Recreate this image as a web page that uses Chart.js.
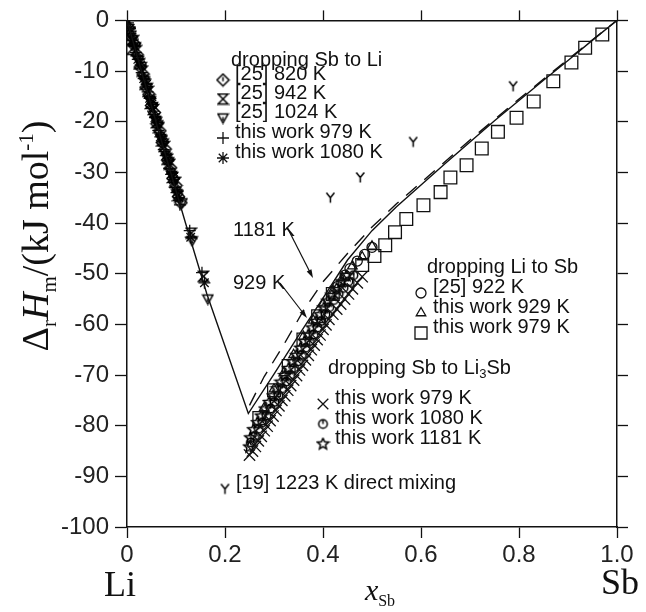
<!DOCTYPE html>
<html>
<head>
<meta charset="utf-8">
<script src="https://cdn.jsdelivr.net/npm/chart.js@4.4.1/dist/chart.umd.min.js"></script>
<style>
  body { margin: 0; background: #fff; }
  canvas { display: block; }
</style>
</head>
<body>
<canvas id="myChart" width="646" height="612"></canvas>
<script>
// tick labels
const xTickLabels = ["0", "0.2", "0.4", "0.6", "0.8", "1.0"];
const yTickLabels = ["0", "-10", "-20", "-30", "-40", "-50", "-60", "-70", "-80", "-90", "-100"];

// dropping Sb to Li
const ref820 = [[0.004,-1.5],[0.009,-3.3],[0.015,-4.6],[0.021,-6.8],[0.027,-9.2],[0.033,-10.6],[0.039,-13.2],[0.045,-14.6],[0.050,-16.8],[0.056,-18.2],[0.061,-20.4],[0.067,-21.8],[0.072,-24.1],[0.078,-25.4],[0.083,-27.6],[0.089,-29.1],[0.094,-31.2],[0.100,-32.6],[0.105,-34.8],[0.110,-36.0]];
const ref942 = [[0.006,-2.3],[0.010,-5.7],[0.013,-4.0],[0.019,-6.0],[0.025,-8.6],[0.031,-10.0],[0.037,-12.6],[0.043,-14.0],[0.048,-16.4],[0.054,-17.6],[0.060,-20.2],[0.065,-21.2],[0.071,-23.8],[0.076,-24.9],[0.082,-27.4],[0.087,-28.4],[0.093,-31.0],[0.098,-32.0],[0.104,-34.6],[0.131,-42.0],[0.156,-50.5]];
const ref1024 = [[0.008,-2.9],[0.017,-5.2],[0.023,-7.9],[0.029,-9.1],[0.035,-11.9],[0.041,-13.2],[0.047,-15.8],[0.052,-17.0],[0.058,-19.7],[0.063,-20.6],[0.069,-23.3],[0.074,-24.2],[0.080,-27.0],[0.085,-27.9],[0.091,-30.6],[0.097,-31.8],[0.102,-34.2],[0.112,-36.0],[0.133,-43.5],[0.165,-55.0]];
const work979Li = [[0.003,-0.8],[0.007,-2.6],[0.012,-3.7],[0.018,-6.3],[0.024,-7.6],[0.030,-10.3],[0.036,-11.4],[0.042,-14.1],[0.047,-15.2],[0.053,-17.9],[0.058,-19.0],[0.064,-21.7],[0.070,-22.8],[0.075,-25.5],[0.081,-26.5],[0.086,-29.2],[0.092,-30.2],[0.097,-32.9],[0.103,-33.8],[0.108,-36.4],[0.128,-41.5],[0.153,-49.8]];
const work1080Li = [[0.002,-0.5],[0.006,-1.6],[0.011,-4.0],[0.016,-5.1],[0.022,-7.7],[0.028,-8.8],[0.034,-11.5],[0.040,-12.6],[0.046,-15.4],[0.051,-16.5],[0.057,-19.2],[0.062,-20.2],[0.068,-23.0],[0.073,-24.0],[0.079,-26.7],[0.084,-27.7],[0.090,-30.4],[0.095,-31.4],[0.101,-34.0],[0.106,-35.0],[0.130,-42.8],[0.158,-51.8]];

// dropping Li to Sb
const ref922 = [[0.430,-52.5],[0.445,-50.3],[0.455,-49.0],[0.470,-47.5],[0.485,-46.2],[0.500,-44.8]];
const work929Sb = [[0.280,-76.5],[0.300,-72.8],[0.320,-69.6],[0.340,-66.0],[0.360,-62.4],[0.380,-59.2],[0.400,-56.0],[0.420,-53.4],[0.440,-50.8],[0.460,-48.5],[0.480,-46.7],[0.500,-44.6]];
const work979Sb = [[0.270,-78.5],[0.300,-73.0],[0.330,-68.2],[0.360,-63.0],[0.390,-58.4],[0.420,-54.0],[0.450,-51.2],[0.480,-48.3],[0.505,-46.5],[0.527,-44.4],[0.547,-41.8],[0.570,-39.2],[0.605,-36.5],[0.640,-33.9],[0.660,-31.0],[0.693,-28.6],[0.724,-25.3],[0.757,-22.0],[0.795,-19.2],[0.830,-16.0],[0.870,-12.0],[0.907,-8.3],[0.935,-5.4],[0.970,-2.8]];

// dropping Sb to Li3Sb
const work979Li3 = [[0.250,-85.8],[0.256,-85.0],[0.262,-84.1],[0.268,-83.0],[0.274,-82.1],[0.280,-81.0],[0.286,-80.1],[0.292,-79.0],[0.298,-78.1],[0.304,-77.0],[0.310,-76.1],[0.316,-75.0],[0.322,-74.1],[0.328,-73.0],[0.334,-72.1],[0.340,-71.0],[0.346,-70.1],[0.352,-69.0],[0.358,-68.1],[0.364,-67.0],[0.370,-66.1],[0.376,-65.0],[0.382,-64.1],[0.388,-63.0],[0.394,-62.1],[0.400,-61.0],[0.406,-60.1],[0.412,-59.0],[0.420,-58.0],[0.428,-57.0],[0.436,-56.0],[0.444,-55.0],[0.452,-54.0],[0.460,-53.0],[0.470,-51.8],[0.480,-50.6]];
const work1080Li3 = [[0.253,-83.3],[0.261,-82.0],[0.269,-80.6],[0.277,-79.3],[0.285,-78.0],[0.293,-76.6],[0.301,-75.3],[0.309,-74.0],[0.317,-72.6],[0.325,-71.3],[0.333,-70.0],[0.341,-68.6],[0.349,-67.3],[0.357,-66.0],[0.365,-64.6],[0.373,-63.3],[0.381,-62.0],[0.389,-60.6],[0.397,-59.3],[0.405,-58.0],[0.413,-56.6],[0.422,-55.2],[0.432,-54.0],[0.442,-52.8],[0.452,-51.5],[0.462,-50.3]];
const work1181Li3 = [[0.250,-84.2],[0.252,-82.4],[0.258,-80.8],[0.266,-79.4],[0.274,-78.1],[0.282,-76.7],[0.290,-75.4],[0.298,-74.1],[0.306,-72.7],[0.314,-71.4],[0.322,-70.1],[0.330,-68.7],[0.338,-67.4],[0.346,-66.1],[0.354,-64.7],[0.362,-63.4],[0.370,-62.1],[0.378,-60.7],[0.386,-59.4],[0.394,-58.1],[0.402,-56.7],[0.410,-55.4],[0.418,-54.2],[0.428,-52.9],[0.438,-51.6],[0.448,-50.4]];

// [19] 1223 K direct mixing
const ref1223 = [[0.415,-35.0],[0.476,-31.0],[0.584,-24.0],[0.788,-13.0]];

// model curves
const curve929 = [[0,0],[0.040,-13.6],[0.080,-27.0],[0.120,-40.2],[0.163,-54.0],[0.2476,-77.6],[0.30,-69.8],[0.35,-62.2],[0.40,-54.8],[0.45,-47.3],[0.50,-41.5],[0.55,-36.8],[0.60,-32.5],[0.65,-28.2],[0.70,-24.0],[0.75,-19.8],[0.80,-15.8],[0.85,-11.8],[0.90,-7.9],[0.95,-3.9],[1.0,0]];
const curve1181 = [[0.25,-76.0],[0.28,-70.3],[0.32,-64.0],[0.36,-57.3],[0.40,-51.6],[0.45,-46.0],[0.50,-40.8],[0.55,-36.2],[0.60,-32.0],[0.70,-23.6],[0.80,-15.5],[0.90,-7.7],[1.0,0]];

const pts = arr => arr.map(p => ({x: p[0], y: p[1]}));

const ink = "#111";
const sansFont = "'Liberation Sans', Arial, sans-serif";
const serifFont = "'Liberation Serif', 'Times New Roman', serif";

// custom marker shapes drawn once into small canvases
function marker(size, draw) {
    const c = document.createElement("canvas");
    c.width = c.height = size;
    const g = c.getContext("2d");
    g.translate(size / 2, size / 2);
    g.strokeStyle = "#000";
    g.lineWidth = 1.5;
    g.beginPath();
    draw(g, size / 2 - 1.5);
    g.stroke();
    return c;
}
const hourglass = marker(13, (g, s) => {
    g.moveTo(-s, -s); g.lineTo(s, -s); g.lineTo(-s, s); g.lineTo(s, s); g.closePath();
});
const diamondTick = marker(15, (g, s) => {
    g.moveTo(0, -s); g.lineTo(s, 0); g.lineTo(0, s); g.lineTo(-s, 0); g.closePath();
    g.moveTo(0, -s * 0.5); g.lineTo(0, s * 0.2);
});
const triDown = marker(13, (g, s) => {
    g.moveTo(-s, -s * 0.8); g.lineTo(s, -s * 0.8); g.lineTo(0, s); g.closePath();
    g.moveTo(0, -s * 0.2); g.lineTo(0, s * 0.5);
});
const circleTick = marker(13, (g, s) => {
    g.arc(0, 0, s * 0.85, 0, Math.PI * 2);
    g.moveTo(0, -s * 0.85); g.lineTo(0, 0);
});
const pentagram = marker(15, (g, s) => {
    for (let i = 0; i <= 10; i++) {
        const r = i % 2 ? s * 0.45 : s;
        const a = -Math.PI / 2 + i * Math.PI / 5;
        if (i === 0) g.moveTo(r * Math.cos(a), r * Math.sin(a));
        else g.lineTo(r * Math.cos(a), r * Math.sin(a));
    }
});
const yMark = marker(13, (g, s) => {
    g.moveTo(0, 0); g.lineTo(-s * 0.8, -s);
    g.moveTo(0, 0); g.lineTo(s * 0.8, -s);
    g.moveTo(0, 0); g.lineTo(0, s);
});

function scatterSet(data, style, radius, rotation) {
    return {
        type: "scatter",
        data: pts(data),
        pointStyle: style,
        pointRadius: radius,
        pointRotation: rotation || 0,
        pointBorderColor: ink,
        pointBackgroundColor: "rgba(0,0,0,0)",
        pointBorderWidth: 1.3,
        showLine: false
    };
}
function lineSet(data, dash) {
    return {
        type: "line",
        data: pts(data),
        borderColor: ink,
        borderWidth: 1.4,
        borderDash: dash || [],
        pointRadius: 0,
        fill: false,
        tension: 0
    };
}

// legend blocks and labels drawn inside the plot
const legendBlocks = [
    {title: [["dropping Sb to Li"]], tx: 231, ty: 60, ix: 235, sx: 223, items: [
        ["[25] 820 K", 74, diamondTick], ["[25] 942 K", 93, hourglass], ["[25] 1024 K", 112, triDown],
        ["this work 979 K", 132, "cross"], ["this work 1080 K", 152, "star"]]},
    {title: [["dropping Li to Sb"]], tx: 427, ty: 267, ix: 433, sx: 421, items: [
        ["[25] 922 K", 287, "circle"], ["this work 929 K", 307, "triangle"], ["this work 979 K", 327, "rect"]]},
    {title: [["dropping Sb to Li"], ["3", true], ["Sb"]], tx: 328, ty: 368, ix: 335, sx: 323, items: [
        ["this work 979 K", 398, "crossRot"], ["this work 1080 K", 418, circleTick], ["this work 1181 K", 438, pentagram]]},
    {title: null, tx: 0, ty: 0, ix: 236, sx: 225, items: [["[19] 1223 K direct mixing", 483, yMark]]}
];
const symbolRadius = {circle: 5, triangle: 5.5, rect: 8.5, cross: 6, star: 6, crossRot: 7.5};

function drawParts(ctx, parts, x, y) {
    parts.forEach(p => {
        ctx.font = p[1];
        ctx.fillText(p[0], x, y + (p[2] || 0));
        x += ctx.measureText(p[0]).width;
    });
    return x;
}
function partsWidth(ctx, parts) {
    let w = 0;
    parts.forEach(p => { ctx.font = p[1]; w += ctx.measureText(p[0]).width; });
    return w;
}
function arrow(ctx, x1, y1, x2, y2) {
    const a = Math.atan2(y2 - y1, x2 - x1);
    ctx.beginPath();
    ctx.moveTo(x1, y1);
    ctx.lineTo(x2 - 6 * Math.cos(a), y2 - 6 * Math.sin(a));
    ctx.stroke();
    ctx.beginPath();
    ctx.moveTo(x2, y2);
    ctx.lineTo(x2 - 9 * Math.cos(a - 0.3), y2 - 9 * Math.sin(a - 0.3));
    ctx.lineTo(x2 - 9 * Math.cos(a + 0.3), y2 - 9 * Math.sin(a + 0.3));
    ctx.closePath();
    ctx.fill();
}

const textPlugin = {
    id: "textPlugin",
    afterDraw(chart) {
        const ctx = chart.ctx;
        const legendFont = "20px " + sansFont;
        const smallFont = "13px " + sansFont;
        ctx.save();
        ctx.fillStyle = ink;
        ctx.strokeStyle = ink;
        ctx.lineWidth = 1.2;
        ctx.textBaseline = "middle";
        ctx.textAlign = "left";

        legendBlocks.forEach(b => {
            if (b.title) {
                drawParts(ctx, b.title.map(t => t[1] ? [t[0], smallFont, 6] : [t[0], legendFont]), b.tx, b.ty);
            }
            b.items.forEach(it => {
                ctx.fillStyle = ink;
                ctx.font = legendFont;
                ctx.fillText(it[0], b.ix, it[1]);
                const style = it[2];
                ctx.save();
                ctx.fillStyle = "rgba(0,0,0,0)";
                ctx.strokeStyle = ink;
                ctx.lineWidth = 1.3;
                Chart.helpers.drawPoint(ctx, {
                    pointStyle: style,
                    radius: symbolRadius[style] || 5,
                    rotation: 0,
                    borderWidth: 1.3
                }, b.sx, it[1] + 6);
                ctx.restore();
            });
        });

        // temperature labels with arrows
        ctx.fillStyle = ink;
        ctx.font = legendFont;
        ctx.fillText("1181 K", 233, 230);
        ctx.fillText("929 K", 233, 283);
        arrow(ctx, 287, 227, 313, 278);
        arrow(ctx, 280, 283, 307, 318);

        // axis end labels
        ctx.textAlign = "center";
        ctx.textBaseline = "alphabetic";
        ctx.font = "36px " + serifFont;
        ctx.fillText("Li", 120, 596);
        ctx.fillText("Sb", 620, 594);

        // x axis title: x_Sb
        const xParts = [["x", "italic 30px " + serifFont], ["Sb", "16px " + serifFont, 6]];
        ctx.textAlign = "left";
        drawParts(ctx, xParts, 380 - partsWidth(ctx, xParts) / 2, 600);

        // y axis title: Δ_r H_m / (kJ mol^-1)
        const yParts = [
            ["\u0394", "38px " + serifFont],
            ["r", "21px " + serifFont, 8],
            ["H", "italic 38px " + serifFont],
            ["m", "21px " + serifFont, 8],
            ["/(kJ mol", "38px " + serifFont],
            ["-1", "21px " + serifFont, -15],
            [")", "38px " + serifFont]
        ];
        ctx.translate(48, 236);
        ctx.rotate(-Math.PI / 2);
        drawParts(ctx, yParts, -partsWidth(ctx, yParts) / 2, 0);
        ctx.restore();
    }
};

const tickFont = {family: sansFont, size: 24};
const axisBorder = {color: ink, width: 1.5};

const config = {
    type: "scatter",
    data: {
        datasets: [
            lineSet(curve929),
            lineSet(curve1181, [14, 10]),
            scatterSet(ref820, diamondTick, 6),
            scatterSet(ref942, hourglass, 6),
            scatterSet(ref1024, triDown, 6),
            scatterSet(work979Li, "cross", 6),
            scatterSet(work1080Li, "star", 6),
            scatterSet(ref922, "circle", 5),
            scatterSet(work929Sb, "triangle", 5.5),
            scatterSet(work979Sb, "rect", 9),
            scatterSet(work979Li3, "crossRot", 8),
            scatterSet(work1080Li3, circleTick, 6),
            scatterSet(work1181Li3, pentagram, 7),
            scatterSet(ref1223, yMark, 6)
        ]
    },
    options: {
        responsive: false,
        animation: false,
        devicePixelRatio: 1,
        layout: {padding: 0},
        plugins: {
            legend: {display: false},
            tooltip: {enabled: false}
        },
        scales: {
            x: {
                type: "linear", position: "bottom", min: 0, max: 1,
                afterFit: s => { s.height = 85; },
                border: axisBorder,
                grid: {drawOnChartArea: false, tickLength: 11, tickColor: ink, tickWidth: 1.3},
                ticks: {
                    stepSize: 0.2, padding: 3, color: "#222", font: tickFont, maxRotation: 0,
                    callback: v => xTickLabels[Math.round(v * 5)]
                }
            },
            x2: {
                type: "linear", position: "top", min: 0, max: 1,
                afterFit: s => { s.height = 17; },
                border: axisBorder,
                grid: {drawOnChartArea: false, tickLength: 10, tickColor: ink, tickWidth: 1.3},
                ticks: {stepSize: 0.2, display: false}
            },
            y: {
                type: "linear", position: "left", min: -100, max: 0,
                afterFit: s => { s.width = 127; },
                border: axisBorder,
                grid: {drawOnChartArea: false, tickLength: 12, tickColor: ink, tickWidth: 1.3},
                ticks: {
                    stepSize: 10, padding: 6, color: "#222", font: tickFont,
                    callback: v => yTickLabels[Math.round(-v / 10)]
                }
            },
            y2: {
                type: "linear", position: "right", min: -100, max: 0,
                afterFit: s => { s.width = 29; },
                border: axisBorder,
                grid: {drawOnChartArea: false, tickLength: 11, tickColor: ink, tickWidth: 1.3},
                ticks: {stepSize: 10, display: false}
            }
        }
    },
    plugins: [textPlugin]
};

const myChart = new Chart(document.getElementById("myChart"), config);
</script>
</body>
</html>
